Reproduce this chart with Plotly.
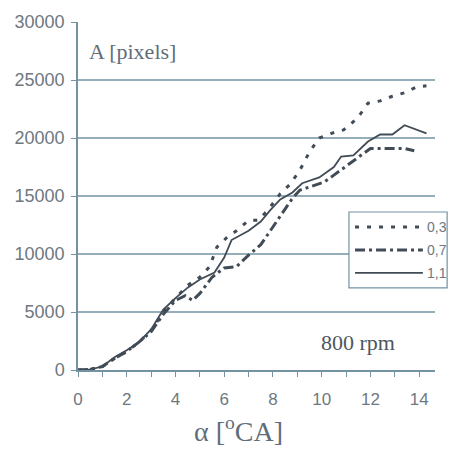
import plotly.graph_objects as go

# ---- data ----
alpha_03 = [0, 0.5, 1.0, 1.5, 2.0, 2.5, 3.0, 3.5, 4.0, 4.5, 5.0, 5.4, 5.7, 6.1, 6.5, 7.0, 7.4, 7.8,
            8.3, 8.7, 9.1, 9.5, 9.9, 10.4, 10.9, 11.3, 11.6, 11.9, 12.4, 12.9, 13.4, 13.9, 14.3]
area_03 = [0, 50, 300, 1000, 1600, 2400, 3400, 5000, 6200, 7300, 8000, 8900, 10600, 11400, 12000,
           12900, 12900, 13800, 15200, 16000, 17200, 18800, 20000, 20400, 20700, 21400, 22100,
           23000, 23200, 23600, 23900, 24400, 24500]

alpha_07 = [0, 0.5, 1.0, 1.5, 2.0, 2.5, 3.0, 3.5, 4.0, 4.4, 4.7, 5.0, 5.5, 6.0, 6.5, 7.0, 7.5, 8.0,
            8.4, 8.8, 9.1, 9.5, 10.1, 10.5, 10.9, 11.5, 12.0, 13.4, 13.8]
area_07 = [0, 50, 300, 1000, 1600, 2400, 3300, 4800, 6000, 6400, 6000, 6600, 8000, 8800, 8900,
           9900, 10800, 12300, 13500, 14800, 15500, 15800, 16200, 16800, 17400, 18300, 19100,
           19100, 18900]

alpha_11 = [0, 0.5, 1.0, 1.5, 2.0, 2.5, 3.0, 3.5, 4.0, 4.5, 5.0, 5.6, 6.0, 6.3, 7.0, 7.5, 7.9, 8.3,
            8.8, 9.2, 9.9, 10.5, 10.8, 11.3, 11.9, 12.4, 12.9, 13.4, 14.3]
area_11 = [0, 50, 300, 1100, 1700, 2400, 3500, 5200, 6200, 7100, 7800, 8400, 9700, 11200, 12000,
           12800, 13800, 14700, 15300, 16100, 16600, 17500, 18400, 18500, 19700, 20300, 20300,
           21100, 20400]

series_names = ["0,3", "0,7", "1,1"]
x_label_vals = [0, 2, 4, 6, 8, 10, 12, 14]
y_ticks = [0, 5000, 10000, 15000, 20000, 25000, 30000]
y_labels = [str(v) for v in y_ticks]
grid_vals = [5000, 10000, 15000, 20000, 25000]

# ---- styles ----
LINE = "#414c56"
GRID = "#7393a4"
TXT = "#6e7880"
styles = [
    dict(color=LINE, width=3, dash="4px,8px"),
    dict(color=LINE, width=3, dash="10px,4px,3px,4px"),
    dict(color=LINE, width=1.8, dash="solid"),
]

fig = go.Figure()
for xs, ys, nm, st in zip([alpha_03, alpha_07, alpha_11], [area_03, area_07, area_11],
                          series_names, styles):
    fig.add_trace(go.Scatter(x=xs, y=ys, mode="lines", name=nm, line=st, showlegend=False))

X_MAX = 14.65
shapes = []
for g in grid_vals:
    shapes.append(dict(type="line", xref="x", yref="y", x0=0, x1=X_MAX, y0=g, y1=g,
                       line=dict(color=GRID, width=1.5), layer="below"))

# manual legend (box, samples, labels)
leg_x0, leg_x1, leg_y0, leg_y1 = 0.759, 1.034, 0.236, 0.454
shapes.append(dict(type="rect", xref="paper", yref="paper", x0=leg_x0, x1=leg_x1,
                   y0=leg_y0, y1=leg_y1, line=dict(color=GRID, width=1.2),
                   fillcolor="white"))
row_y = [0.411, 0.345, 0.279]
annotations = []
for ry, nm, st in zip(row_y, series_names, styles):
    shapes.append(dict(type="line", xref="paper", yref="paper", x0=0.776, x1=0.966,
                       y0=ry, y1=ry, line=dict(color=st["color"], width=st["width"],
                                                dash=st["dash"])))
    annotations.append(dict(xref="paper", yref="paper", x=0.972, y=ry, text=nm,
                            showarrow=False, xanchor="left", yanchor="middle",
                            font=dict(family="Liberation Sans", size=14, color=TXT)))

annotations += [
    dict(xref="paper", yref="paper", x=0.025, y=0.914, text="A [pixels]", showarrow=False,
         xanchor="left", yanchor="middle",
         font=dict(family="Liberation Serif", size=22, color="#5f6e7a")),
    dict(xref="paper", yref="paper", x=0.784, y=0.078, text="800 rpm", showarrow=False,
         xanchor="center", yanchor="middle",
         font=dict(family="Liberation Serif", size=22, color="#4d5660")),
    dict(xref="paper", yref="paper", x=0.45, y=-0.172, text="α [<sup>o</sup>CA]",
         showarrow=False, xanchor="center", yanchor="middle",
         font=dict(family="Liberation Serif", size=28, color="#5f6e7a")),
]

fig.update_layout(
    width=449, height=453,
    margin=dict(l=78, r=14, t=22, b=83),
    paper_bgcolor="white", plot_bgcolor="white",
    shapes=shapes, annotations=annotations,
    showlegend=False,
    xaxis=dict(range=[0, X_MAX], tickvals=x_label_vals, ticks="outside",
               ticklen=5, tickcolor=GRID, showgrid=False, zeroline=False, showline=True,
               linecolor=GRID, linewidth=1.5, ticklabelstandoff=8,
               minor=dict(dtick=1, tick0=0, ticks="outside", ticklen=5, tickcolor=GRID,
                          showgrid=False),
               tickfont=dict(family="Liberation Sans", size=17, color=TXT)),
    yaxis=dict(range=[0, 30000], tickvals=y_ticks, ticktext=y_labels, ticks="outside",
               ticklen=5, tickcolor=GRID, showgrid=False, zeroline=False, showline=True,
               linecolor=GRID, linewidth=1.5, ticklabelstandoff=3,
               tickfont=dict(family="Liberation Sans", size=18, color=TXT)),
)

fig.write_html("out.html")
